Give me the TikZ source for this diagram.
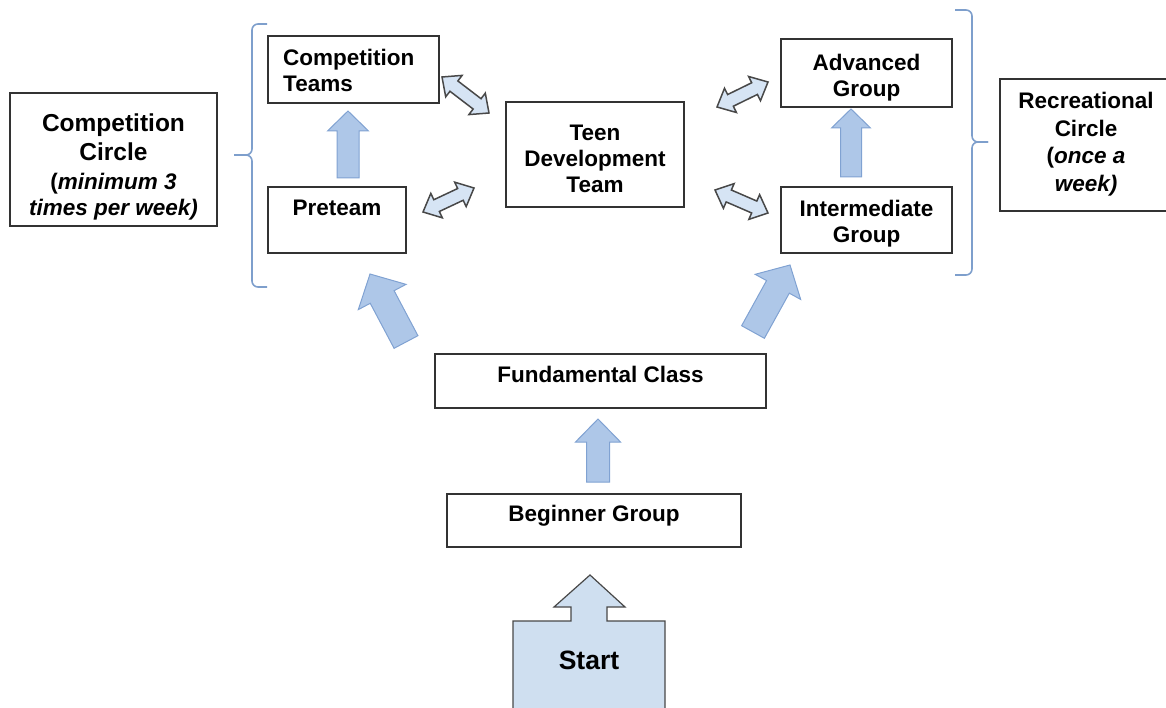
\documentclass[tikz,border=0pt]{standalone}
\usepackage{fontspec}
\setmainfont{Liberation Sans}
\usetikzlibrary{calc}
\definecolor{boxline}{HTML}{333333}
\definecolor{bracecol}{HTML}{7E9FCC}
\definecolor{arrline}{HTML}{80A2D2}
\definecolor{arrfill}{HTML}{AEC7E8}
\definecolor{dblfill}{HTML}{D6E4F4}
\definecolor{dblline}{HTML}{484848}
\definecolor{startfill}{HTML}{CFDFF0}
\newdimen\BAdx
\newdimen\BAdy
\newcommand{\BAsetup}[2]{%
  \pgfextractx{\BAdx}{\pgfpointdiff{\pgfpointanchor{#1}{center}}{\pgfpointanchor{#2}{center}}}%
  \pgfextracty{\BAdy}{\pgfpointdiff{\pgfpointanchor{#1}{center}}{\pgfpointanchor{#2}{center}}}%
  \pgfmathsetmacro{\BAang}{atan2(\BAdy,\BAdx)}%
  \pgfmathsetmacro{\BAlen}{veclen(\BAdx,\BAdy)}}
% tail, tip, shaft half width, head half width, head length
\newcommand{\blkarrow}[5]{%
  \BAsetup{#1}{#2}%
  \begin{scope}[shift={(#1)}, rotate=\BAang, x=1pt, y=1pt]
    \draw[blockarr] (0,-#3) -- ({\BAlen-#5},-#3) -- ({\BAlen-#5},-#4) -- (\BAlen,0)
      -- ({\BAlen-#5},#4) -- ({\BAlen-#5},#3) -- (0,#3) -- cycle;
  \end{scope}}
\newcommand{\dblarrow}[5]{%
  \BAsetup{#1}{#2}%
  \begin{scope}[shift={(#1)}, rotate=\BAang, x=1pt, y=1pt]
    \draw[dblarr] (0,0) -- (#5,#4) -- (#5,#3) -- ({\BAlen-#5},#3) -- ({\BAlen-#5},#4)
      -- (\BAlen,0) -- ({\BAlen-#5},-#4) -- ({\BAlen-#5},-#3) -- (#5,-#3) -- (#5,-#4) -- cycle;
  \end{scope}}
\newcommand{\fs}{\fontsize{22.5}{26}\selectfont\bfseries}
\newcommand{\fb}{\fontsize{24.5}{29}\selectfont\bfseries}
\tikzset{
  box/.style={draw=boxline, line width=1.2pt, fill=white, inner sep=0pt},
  txt/.style={font=\fs, align=center, inner sep=0pt},
  blockarr/.style={draw=arrline, line width=1pt, fill=arrfill, line join=miter},
  dblarr/.style={draw=dblline, line width=1.5pt, fill=dblfill, line join=miter},
  bracestyle/.style={draw=bracecol, line width=1.6pt, rounded corners=6pt},
}
\begin{document}
\begin{tikzpicture}[x=1pt, y=-1pt]
\useasboundingbox (0,0) rectangle (1166,708);
% boxes
\node[box, minimum width=207pt, minimum height=133pt] (ccircle) at (113.5,159.5) {};
\node[txt] (ccircle-t) at (113.5,167) {\fb Competition\\[3pt]\fb Circle\\[3pt]\fs (\textit{minimum 3}\\\fs\textit{times per week)}};
\node[box, minimum width=171pt, minimum height=67pt] (cteams) at (353.5,69.5) {};
\node[txt, anchor=west, align=left] (cteams-t) at (283,70.5) {Competition\\Teams};
\node[box, minimum width=138pt, minimum height=66pt] (preteam) at (337,220) {};
\node[txt] (preteam-t) at (337,208) {Preteam};
\node[box, minimum width=178pt, minimum height=105pt] (tdt) at (595,154.5) {};
\node[txt] (tdt-t) at (595,158.5) {Teen\\Development\\Team};
\node[box, minimum width=171pt, minimum height=68pt] (adv) at (866.5,73) {};
\node[txt] (adv-t) at (866.5,78) {Advanced\\Group};
\node[box, minimum width=171pt, minimum height=66pt] (inter) at (866.5,220) {};
\node[txt] (inter-t) at (866.5,223.5) {Intermediate\\Group};
\node[box, minimum width=172pt, minimum height=132pt] (rec) at (1086,145) {};
\node[txt] (rec-t) at (1086,144) {Recreational\\[1.5pt]Circle\\[1.5pt](\textit{once a}\\[1.5pt]\textit{week)}};
\node[box, minimum width=331pt, minimum height=54pt] (fund) at (600.5,381) {};
\node[txt] (fund-t) at (600.5,374.5) {Fundamental Class};
\node[box, minimum width=294pt, minimum height=53pt] (begin) at (594,520.5) {};
\node[txt] (begin-t) at (594,516) {Beginner Group};
% start shape
\draw[draw=dblline, line width=1.2pt, fill=startfill, line join=miter]
  (513,712) -- (513,621) -- (571,621) -- (571,607) -- (554,607) -- (590,575)
  -- (625,607) -- (607,607) -- (607,621) -- (665,621) -- (665,712) -- cycle;
\node[txt, font=\fontsize{26.5}{30}\selectfont\bfseries] (start) at (589,660) {Start};
% braces
\draw[bracestyle] (267,24) -| (252,155) -- (234,155);
\draw[bracestyle] (234,155) -- (252,155) |- (267,287);
\draw[bracestyle] (955,10) -| (972,142) -- (988,142);
\draw[bracestyle] (988,142) -- (972,142) |- (955,275);
% arrow end points
\coordinate (a1s) at (348,178); \coordinate (a1e) at (348,111);
\coordinate (a2s) at (851,177); \coordinate (a2e) at (851,109);
\coordinate (a3s) at (598,482); \coordinate (a3e) at (598,419);
\coordinate (a4s) at (406,342); \coordinate (a4e) at (370,274);
\coordinate (a5s) at (753,332); \coordinate (a5e) at (790,265);
\coordinate (d1s) at (442,77);  \coordinate (d1e) at (489,113);
\coordinate (d2s) at (423,212); \coordinate (d2e) at (474,188);
\coordinate (d3s) at (717,107); \coordinate (d3e) at (768,82);
\coordinate (d4s) at (715,190); \coordinate (d4e) at (768,213);
\blkarrow{a1s}{a1e}{11}{20.5}{20}
\blkarrow{a2s}{a2e}{10.5}{19.5}{19}
\blkarrow{a3s}{a3e}{11.5}{22.5}{23}
\blkarrow{a4s}{a4e}{13.5}{27}{26}
\blkarrow{a5s}{a5e}{13}{26}{25}
\dblarrow{d1s}{d1e}{6.5}{13.5}{15}
\dblarrow{d2s}{d2e}{6.5}{13.5}{15}
\dblarrow{d3s}{d3e}{6.5}{13.5}{15}
\dblarrow{d4s}{d4e}{6.5}{13.5}{15}
\end{tikzpicture}
\end{document}
